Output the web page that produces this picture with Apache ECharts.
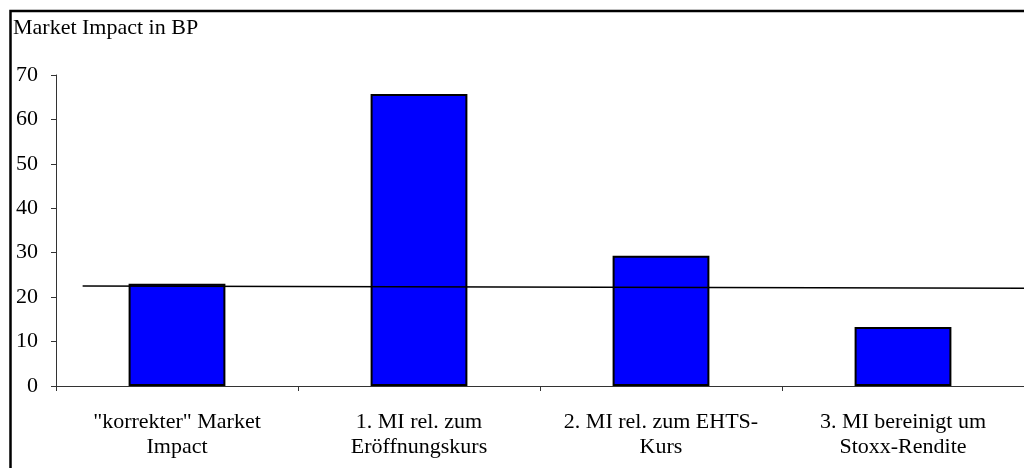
<!DOCTYPE html>
<html>
<head>
<meta charset="utf-8">
<script src="https://cdn.jsdelivr.net/npm/echarts@6/dist/echarts.min.js"></script>
<style>
  html, body { margin: 0; padding: 0; background: #fff; }
  #chart { width: 1024px; height: 468px; }
</style>
</head>
<body>
<div id="chart"></div>
<script>
// Categories and measured market impact (basis points)
const categories = [
  '"korrekter" Market\nImpact',
  '1. MI rel. zum\nEröffnungskurs',
  '2. MI rel. zum EHTS-\nKurs',
  '3. MI bereinigt um\nStoxx-Rendite'
];
const impactValues = [23.0, 65.7, 29.3, 13.3];

// Reference line: [category position, value] at its two ends
const refLineStart = [-0.39, 22.5];
const refLineEnd = [3.5, 22.0];

const yTicks = { min: 0, max: 70, interval: 10 };
const yTitle = 'Market Impact in BP';

const serif = '"Liberation Serif", "DejaVu Serif", serif';
const chart = echarts.init(document.getElementById('chart'));

chart.setOption({
  animation: false,
  backgroundColor: '#fff',
  grid: { left: 56, right: -8, top: 75, bottom: 82, containLabel: false },
  graphic: [
    {
      type: 'rect',
      shape: { x: 10.5, y: 11, width: 1030, height: 470 },
      style: { fill: 'none', stroke: '#000', lineWidth: 2.5 },
      silent: true,
      z: 100
    },
    {
      type: 'text',
      left: 13,
      top: 17,
      style: { text: yTitle, font: '22px ' + serif, fill: '#000' }
    }
  ],
  xAxis: [
    {
      type: 'category',
      data: categories,
      axisLine: { lineStyle: { color: '#333', width: 1 } },
      axisTick: { show: true, length: 5, alignWithLabel: false, lineStyle: { color: '#333' } },
      axisLabel: {
        color: '#000', fontFamily: serif, fontSize: 22, lineHeight: 25,
        margin: 24, interval: 0
      },
      splitLine: { show: false }
    },
    {
      type: 'value',
      min: -0.5,
      max: 3.5,
      show: false
    }
  ],
  yAxis: {
    type: 'value',
    min: yTicks.min,
    max: yTicks.max,
    interval: yTicks.interval,
    axisLine: { show: true, onZero: false, lineStyle: { color: '#333', width: 1 } },
    axisTick: { show: true, length: 5, lineStyle: { color: '#333' } },
    axisLabel: { color: '#000', fontFamily: serif, fontSize: 22, margin: 18 },
    splitLine: { show: false }
  },
  series: [
    {
      type: 'bar',
      data: impactValues,
      barWidth: '40%',
      itemStyle: { color: '#0000ff', borderColor: '#000', borderWidth: 2 },
      z: 2
    },
    {
      type: 'line',
      xAxisIndex: 1,
      data: [refLineStart, refLineEnd],
      symbol: 'none',
      lineStyle: { color: '#000', width: 1.5 },
      z: 3
    }
  ]
});
</script>
</body>
</html>
